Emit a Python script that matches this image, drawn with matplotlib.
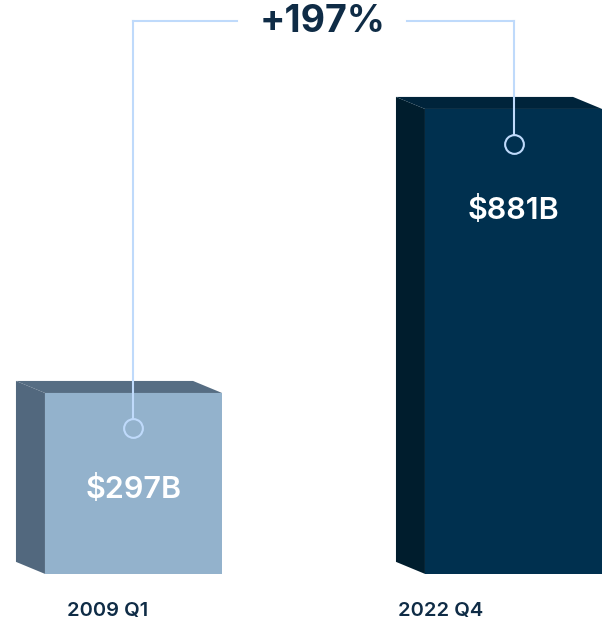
import matplotlib.pyplot as plt

# data
periods = ["2009 Q1", "2022 Q4"]
values = [297, 881]
value_labels = ["$297B", "$881B"]
change_label = "+197%"

# styling
front_colors = ["#93B2CC", "#00304F"]
side_colors = ["#52687E", "#001D2D"]
top_colors = ["#566D83", "#00243B"]
line_color = "#BFDAFB"
text_color = "#0F2C46"
BASE = -75          # bars stand on a pedestal below zero
width = 0.466
dx, dy = -0.0763, 24.7   # 3d offset of the side/top faces
label_drop = [198, 208]

plt.rcParams['font.family'] = ['Inter', 'DejaVu Sans']

fig = plt.figure(figsize=(6.09, 6.32), dpi=100)
ax = fig.add_axes([0, 0, 1, 1])
ax.set_xlim(-0.3513, 1.2513)
ax.set_ylim(-194.5, 1105)
ax.axis("off")

xs = list(range(len(values)))

# side and top faces
for x, v, sc, tc in zip(xs, values, side_colors, top_colors):
    xl, xr = x - width / 2, x + width / 2
    ax.fill([xl, xl, xl + dx, xl + dx], [BASE, v, v + dy, BASE + dy], color=sc, lw=0, zorder=1)
    ax.fill([xl, xr, xr + dx, xl + dx], [v, v, v + dy, v + dy], color=tc, lw=0, zorder=1)

# front faces
ax.bar(xs, [v - BASE for v in values], bottom=BASE, width=width, color=front_colors, zorder=2)

# value labels
for x, v, lab, d in zip(xs, values, value_labels, label_drop):
    ax.text(x, v - d, lab, ha="center", va="center", color="white",
            fontsize=22, fontweight="semibold", zorder=4)

# connector with circles
top_y = 1062
for x, v in zip(xs, values):
    cy = v - 72
    ax.plot([x, x], [top_y, cy + 19], color=line_color, lw=1.5, zorder=3)
    ax.plot(x, cy, "o", ms=13.5, mfc="none", mec=line_color, mew=1.5, zorder=3)
ax.plot([xs[0], 0.272], [top_y, top_y], color=line_color, lw=1.5, zorder=3)
ax.plot([0.72, xs[1]], [top_y, top_y], color=line_color, lw=1.5, zorder=3)
ax.text(0.497, 1060, change_label, ha="center", va="center", color=text_color,
        fontsize=27, fontweight="bold")

# period labels
label_x = [-0.067, 0.807]
for lx, p in zip(label_x, periods):
    ax.text(lx, -151, p, ha="center", va="center", color=text_color,
            fontsize=14.5, fontweight="semibold")

fig.savefig("out.png", dpi=100)
